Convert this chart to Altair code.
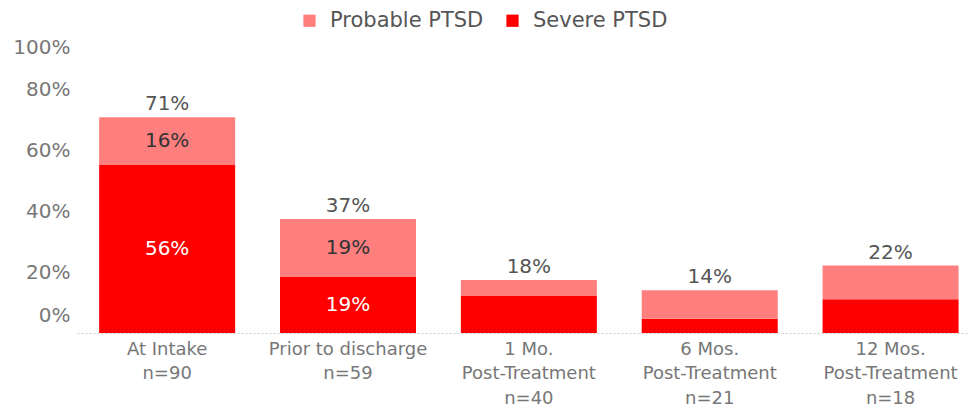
import altair as alt
import pandas as pd

categories = ["At Intake", "Prior to discharge", "1 Mo. Post-Treatment", "6 Mos. Post-Treatment", "12 Mos. Post-Treatment"]
axis_labels = ["At Intake\nn=90", "Prior to discharge\nn=59", "1 Mo.\nPost-Treatment\nn=40",
               "6 Mos.\nPost-Treatment\nn=21", "12 Mos.\nPost-Treatment\nn=18"]
severe = [55.4, 18.4, 12.3, 4.7, 11.1]
probable = [15.6, 19.1, 5.1, 9.4, 11.1]
total_labels = ["71%", "37%", "18%", "14%", "22%"]
severe_labels = ["56%", "19%", "", "", ""]
probable_labels = ["16%", "19%", "", "", ""]

series = ["Probable PTSD", "Severe PTSD"]
colors = ["#FF7F7F", "#FF0000"]

rows = []
for i, c in enumerate(categories):
    rows.append({"cat": c, "series": "Severe PTSD", "ord": 1, "value": severe[i], "label": severe_labels[i]})
    rows.append({"cat": c, "series": "Probable PTSD", "ord": 2, "value": probable[i], "label": probable_labels[i]})
long = pd.DataFrame(rows)
totals = pd.DataFrame({"cat": categories, "total": [s + p for s, p in zip(severe, probable)], "label": total_labels})

label_map = "{" + ",".join(f'"{c}": {l.split(chr(10))!r}'.replace("'", '"') for c, l in zip(categories, axis_labels)) + "}"

FONT = "DejaVu Sans"

x = alt.X("cat:N", sort=categories, title=None,
          scale=alt.Scale(paddingInner=0.248, paddingOuter=0.09, align=0.68),
          axis=alt.Axis(labelAngle=0, labelExpr=f"{label_map}[datum.label]", labelFontSize=18,
                        labelColor="#777777", labelLineHeight=24.5, labelPadding=7, ticks=False,
                        domainColor="#cccccc", domainDash=[2, 2], domainWidth=1, labelFont=FONT))

bars = alt.Chart(long).mark_bar().encode(
    x=x,
    y=alt.Y("value:Q", stack="zero", title=None,
            scale=alt.Scale(domain=[0, 100], nice=False),
            axis=alt.Axis(values=[0, 20, 40, 60, 80, 100], labelExpr="datum.value + '%'",
                          labelFontSize=20, labelColor="#777777", grid=False, domain=False,
                          ticks=False, labelPadding=7, labelFlush=True, labelFlushOffset=-8,
                          labelFont=FONT)),
    color=alt.Color("series:N", scale=alt.Scale(domain=series, range=colors),
                    legend=alt.Legend(title=None, orient="none", direction="horizontal",
                                      legendX=222, legendY=-19, symbolType="square",
                                      symbolSize=150, labelFontSize=21, labelColor="#555555",
                                      labelFont=FONT, columnPadding=18, symbolStrokeWidth=0,
                                      symbolOpacity=1, labelOffset=10)),
    order=alt.Order("ord:Q"),
)

inner = alt.Chart(long).transform_stack(
    stack="value", groupby=["cat"], as_=["y0", "y1"], sort=[alt.SortField("ord")]
).transform_calculate(mid="(datum.y0 + datum.y1) / 2").transform_filter(
    "datum.label != ''"
).mark_text(fontSize=20, font=FONT, baseline="middle").encode(
    x=alt.X("cat:N", sort=categories),
    y=alt.Y("mid:Q"),
    text="label:N",
    color=alt.Color("series:N", scale=alt.Scale(domain=series, range=["#333333", "#ffffff"]), legend=None),
)

tops = alt.Chart(totals).mark_text(fontSize=20, font=FONT, baseline="bottom", dy=-3, color="#555555").encode(
    x=alt.X("cat:N", sort=categories),
    y=alt.Y("total:Q"),
    text="label:N",
)

chart = alt.layer(bars, inner, tops).resolve_scale(color="independent").properties(
    width=892, height=304,
    autosize=alt.AutoSizeParams(type="none"),
    padding={"left": 69, "top": 21, "right": 0, "bottom": 75},
).configure_view(stroke=None)

chart.save("out.html", embed_options={"renderer": "svg", "actions": False})
